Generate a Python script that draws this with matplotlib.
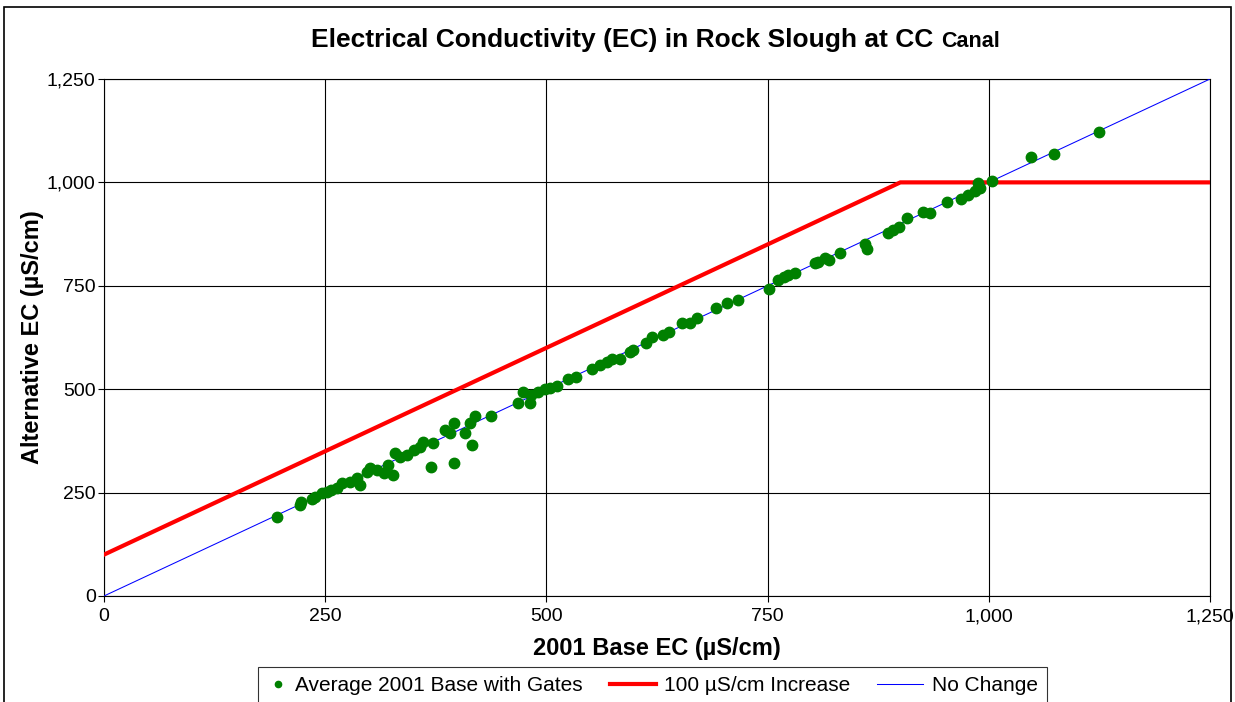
import matplotlib
matplotlib.use("Agg")
import matplotlib.pyplot as plt
from matplotlib.patches import Rectangle

plt.rcParams['font.family'] = ['Liberation Sans', 'DejaVu Sans']

# base EC vs alternative EC
base_ec = [196, 221, 223, 235, 238, 246, 252, 257, 263, 269, 278, 286, 289,
           297, 301, 308, 316, 321, 327, 329, 335, 342, 350, 357, 361, 370,
           372, 385, 391, 395, 396, 408, 414, 416, 419, 437, 468, 474, 481,
           483, 491, 498, 504, 512, 524, 534, 552, 561, 568, 574, 583, 594,
           598, 613, 619, 632, 638, 653, 662, 670, 692, 704, 717, 751, 762,
           768, 773, 781, 804, 807, 815, 819, 832, 860, 862, 886, 892, 898,
           908, 926, 934, 953, 968, 976, 984, 990, 988, 1004, 1048, 1074, 1124]
alt_ec = [192, 220, 228, 234, 239, 248, 252, 256, 260, 272, 276, 285, 268,
          300, 309, 305, 297, 317, 293, 345, 337, 341, 353, 361, 373, 313,
          369, 401, 393, 418, 321, 393, 418, 365, 434, 435, 466, 492, 467,
          486, 494, 500, 502, 508, 524, 530, 550, 558, 566, 572, 574, 590,
          595, 611, 627, 631, 639, 659, 659, 671, 696, 708, 716, 742, 764,
          772, 776, 782, 804, 808, 816, 812, 829, 852, 840, 877, 884, 893,
          915, 929, 927, 953, 959, 970, 978, 986, 999, 1004, 1061, 1069, 1123]

limit_x = [0, 900, 1250]
limit_y = [100, 1000, 1000]
same_x = [0, 1250]
same_y = [0, 1250]

ticks = [0, 250, 500, 750, 1000, 1250]
tick_labels = ['0', '250', '500', '750', '1,000', '1,250']

fig = plt.figure(figsize=(12.35, 7.02), dpi=100)
ax = fig.add_axes([0.0842, 0.151, 0.8956, 0.7365])

ax.plot(same_x, same_y, color='#0000ff', lw=0.75, label='No Change', zorder=3)
ax.plot(limit_x, limit_y, color='#ff0000', lw=3, label='100 µS/cm Increase',
        zorder=3, solid_joinstyle='miter')
ax.plot(base_ec, alt_ec, 'o', color='#008000', ms=7.5, mec='#008000',
        label='Average 2001 Base with Gates', zorder=4)

ax.set_xlim(0, 1250)
ax.set_ylim(0, 1250)
ax.set_xticks(ticks)
ax.set_xticklabels(tick_labels)
ax.set_yticks(ticks)
ax.set_yticklabels(tick_labels)
ax.grid(True, color='black', lw=0.8)
ax.set_axisbelow(True)
ax.tick_params(direction='out', length=4, width=0.8, labelsize=14, pad=2)
ax.tick_params(axis='x', pad=5)
for s in ax.spines.values():
    s.set_color('black')
    s.set_linewidth(0.8)

ax.set_xlabel('2001 Base EC (µS/cm)', fontsize=17, fontweight='bold', labelpad=8)
ax.set_ylabel('Alternative EC (µS/cm)', fontsize=17, fontweight='bold', labelpad=2)

fig.text(0.762, 0.943, 'Electrical Conductivity (EC) in Rock Slough at CC ',
         fontsize=19, fontweight='bold', ha='right', va='center')
fig.text(0.762, 0.941, 'Canal', fontsize=15.5, fontweight='bold',
         ha='left', va='center')

h, l = ax.get_legend_handles_labels()
order = [2, 1, 0]
leg = fig.legend([h[i] for i in order], [l[i] for i in order], loc='upper left',
                 bbox_to_anchor=(258 / 1235, 1 - 667 / 702), ncol=3, fontsize=15,
                 frameon=True, fancybox=False, edgecolor='black',
                 handlelength=2.2, handletextpad=0.4, columnspacing=1.3,
                 borderpad=0.45, borderaxespad=0, markerscale=0.6)
leg.get_frame().set_linewidth(0.8)
h0 = leg.legend_handles[0]
h0.set_linestyle('none')
# narrow the marker-only handle box like the original legend
try:
    entry = leg._legend_handle_box.get_children()[0].get_children()[0]
    da = entry.get_children()[0]
    da.width = 14
    h0.set_xdata([8] * len(h0.get_xdata()))
except Exception:
    pass

fig.patches.append(Rectangle((0.003, -0.01), 0.994, 1.0, transform=fig.transFigure,
                             fill=False, edgecolor='black', lw=1.2))

fig.savefig('out.png', dpi=100)
